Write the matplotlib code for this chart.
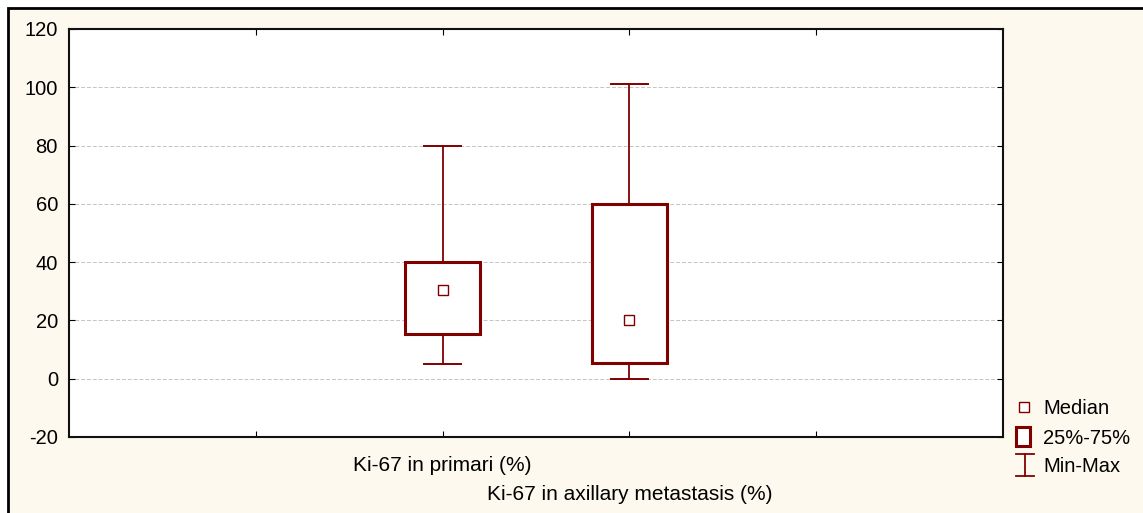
import matplotlib
matplotlib.use('Agg')
from matplotlib import pyplot as plt
from matplotlib.patches import Rectangle
from matplotlib.lines import Line2D

# Values
categories = ['Ki-67 in primari (%)', 'Ki-67 in axillary metastasis (%)']
medians = [30.5, 20.3]
q1 = [15.2, 5.5]
q3 = [40, 60]
mins = [5.2, 0]
maxs = [80, 101.2]
yticks = [-20, 0, 20, 40, 60, 80, 100, 120]
legend_labels = ['Median', '25%-75%', 'Min-Max']

red = '#800000'
cream = '#FEF9EE'
W, H = 1143, 513

plt.rcParams['font.family'] = ['Liberation Sans', 'DejaVu Sans']

fig = plt.figure(figsize=(W / 100, H / 100), dpi=100, facecolor='white')


def px(x, y):
    # pixel position (from top-left) -> figure fraction
    return x / W, 1 - y / H


# cream background with black frame (top and left visible)
bg = Rectangle(px(8, H + 5), 1.1, (H - 3) / H, transform=fig.transFigure,
               facecolor=cream, edgecolor='black', linewidth=2, zorder=-10)
fig.patches.append(bg)

ax = fig.add_axes([69 / W, 1 - 437 / H, 934 / W, (437 - 29) / H])
ax.set_facecolor('white')
ax.set_zorder(1)

positions = [2, 3]
box_w = 0.4
cap_w = 0.2
for x, lo, hi, a, b, m in zip(positions, mins, maxs, q1, q3, medians):
    ax.plot([x, x], [lo, a], color=red, lw=1.3, zorder=3)
    ax.plot([x, x], [b, hi], color=red, lw=1.3, zorder=3)
    ax.plot([x - cap_w / 2, x + cap_w / 2], [lo, lo], color=red, lw=1.4, zorder=3)
    ax.plot([x - cap_w / 2, x + cap_w / 2], [hi, hi], color=red, lw=1.4, zorder=3)
    ax.add_patch(Rectangle((x - box_w / 2, a), box_w, b - a, facecolor='white',
                           edgecolor=red, lw=2.2, zorder=4))
    ax.plot([x], [m], marker='s', ms=7, mfc='white', mec=red, mew=1, ls='none', zorder=5)

ax.set_xlim(0, 5)
ax.set_ylim(-20, 120)
ax.set_yticks(yticks)
ax.set_yticklabels([str(v) for v in yticks], fontsize=14.5)
ax.set_xticks([1, 2, 3, 4])
ax.set_xticklabels(['', categories[0], categories[1], ''], fontsize=15)
ax.get_xticklabels()[2].set_y(-0.071)
ax.tick_params(axis='x', direction='in', top=True, bottom=True, length=4, pad=14)
ax.tick_params(axis='y', direction='in', left=True, right=True, length=4, pad=8)

for v in yticks[1:-1]:
    ax.axhline(v, color='#C4C4C4', lw=0.7, ls=(0, (4, 2)), zorder=1)

for s in ax.spines.values():
    s.set_linewidth(1.5)
    s.set_color('#111111')

# legend drawn by hand, Statistica style
tf = fig.transFigure
fig.add_artist(Line2D(*zip(px(1024, 407)), marker='s', ms=7, mfc='white', mec=red,
                      mew=1, ls='none', transform=tf))
x0, y0 = px(1016, 446)
x1, y1 = px(1030, 427)
fig.add_artist(Rectangle((x0, y0), x1 - x0, y1 - y0, transform=tf, facecolor='white',
                         edgecolor=red, lw=2.2))
fig.add_artist(Line2D(*zip(px(1025, 454), px(1025, 476)), color=red, lw=1.3, transform=tf))
fig.add_artist(Line2D(*zip(px(1016, 454), px(1034, 454)), color=red, lw=1.3, transform=tf))
fig.add_artist(Line2D(*zip(px(1016, 476), px(1034, 476)), color=red, lw=1.3, transform=tf))
for lab, yy in zip(legend_labels, [409, 438, 466]):
    fig.text(*px(1043, yy), lab, fontsize=14.5, va='center', ha='left')

fig.savefig('out.png', dpi=100, facecolor='white')
